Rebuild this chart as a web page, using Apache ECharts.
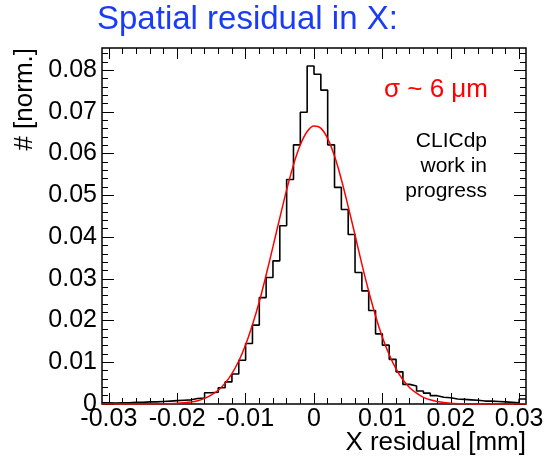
<!DOCTYPE html>
<html>
<head>
<meta charset="utf-8">
<script src="https://cdn.jsdelivr.net/npm/echarts@6/dist/echarts.min.js"></script>
<style>
html,body{margin:0;padding:0;background:#fff}
#container{width:547px;height:463px}
</style>
</head>
<body>
<div id="container"></div>
<script>
// histogram: 62 bins of 1 um from -0.031 to 0.031 mm
var xMin = -0.031, xMax = 0.031, binWidth = 0.001;
var histValues = [
    0.0003, 0.0002, 0.0003, 0.0003, 0.0004, 0.0004, 0.0005, 0.0005, 0.0006, 0.0007,
    0.0008, 0.0009, 0.0010, 0.0013, 0.0014, 0.0027, 0.0028, 0.0039, 0.0053, 0.0072,
    0.0105, 0.0145, 0.0189, 0.0255, 0.0303, 0.0343, 0.0427, 0.0538, 0.0621, 0.0699,
    0.0810, 0.0790, 0.0752, 0.0621, 0.0519, 0.0466, 0.0406, 0.0315, 0.0271, 0.0224,
    0.0168, 0.0141, 0.0107, 0.0077, 0.0047, 0.0043, 0.0031, 0.0026, 0.0020, 0.0016,
    0.0015, 0.0012, 0.0011, 0.0010, 0.0009, 0.0007, 0.0007, 0.0006, 0.0005, 0.0004,
    0.0003, 0.0012
];
// gauss fit curve
var fitX = [-0.031, -0.024, -0.022, -0.020, -0.018, -0.017, -0.016, -0.015, -0.014, -0.013,
    -0.012, -0.011, -0.010, -0.009, -0.008, -0.007, -0.006, -0.005, -0.004, -0.003,
    -0.002, -0.001, 0.000, 0.001, 0.002, 0.003, 0.004, 0.005, 0.006, 0.007,
    0.008, 0.009, 0.010, 0.011, 0.012, 0.013, 0.014, 0.015, 0.016, 0.017,
    0.018, 0.020, 0.022, 0.024, 0.031];
var fitY = [0, 0, 0.00003, 0.00016, 0.0005, 0.0008, 0.00135, 0.0022, 0.0033, 0.0050,
    0.0073, 0.0103, 0.0142, 0.0190, 0.0245, 0.0309, 0.0377, 0.0446, 0.0513, 0.0573,
    0.0621, 0.0653, 0.0666, 0.0661, 0.0636, 0.0594, 0.0538, 0.0473, 0.0405, 0.0335,
    0.0270, 0.0211, 0.0160, 0.0118, 0.0084, 0.0058, 0.0039, 0.0026, 0.0016, 0.0010,
    0.0006, 0.0002, 0.00004, 0, 0];
var xMajor = [-0.03, -0.02, -0.01, 0, 0.01, 0.02, 0.03];
var xMinor = [];
for (var i = -15; i <= 15; i++) { if (i % 5 != 0) xMinor.push(i * 0.002); }
var yMajor = [0, 0.01, 0.02, 0.03, 0.04, 0.05, 0.06, 0.07, 0.08];
var yMinor = [];
for (var j = 1; j <= 42; j++) { if (j % 5 != 0) yMinor.push(j * 0.002); }
var yMax = 0.0853;

var histData = [];
for (var k = 0; k < histValues.length; k++) {
    var lo = xMin + k * binWidth;
    histData.push([lo, histValues[k]]);
    histData.push([lo + binWidth, histValues[k]]);
}
var fitData = fitX.map(function (x, n) { return [x, fitY[n]]; });

function fmt(v) { return String(+(+v).toFixed(3)); }

function xAxisDef(pos, values, len, labels) {
    return {
        type: 'value', min: xMin, max: xMax, position: pos, offset: 0,
        axisLine: {show: false, onZero: false}, splitLine: {show: false},
        axisTick: {show: true, inside: true, length: len, customValues: values, lineStyle: {color: '#000', width: 1}},
        axisLabel: labels ? {show: true, customValues: values, formatter: fmt, fontSize: 25,
            fontFamily: 'Liberation Sans', color: '#000', margin: 3} : {show: false}
    };
}
function yAxisDef(pos, values, len, labels) {
    return {
        type: 'value', min: 0, max: yMax, position: pos, offset: 0,
        axisLine: {show: false, onZero: false}, splitLine: {show: false},
        axisTick: {show: true, inside: true, length: len, customValues: values, lineStyle: {color: '#000', width: 1}},
        axisLabel: labels ? {show: true, customValues: values, formatter: fmt, fontSize: 25,
            fontFamily: 'Liberation Sans', color: '#000', margin: 5} : {show: false}
    };
}

var myChart = echarts.init(document.getElementById('container'));
myChart.setOption({
    animation: false,
    backgroundColor: '#fff',
    grid: {left: 102, right: 21, top: 48, bottom: 59, show: true, borderColor: '#000', borderWidth: 1.5, backgroundColor: 'transparent'},
    xAxis: [
        xAxisDef('bottom', xMajor, 11, true),
        xAxisDef('bottom', xMinor, 6, false),
        xAxisDef('top', xMajor, 11, false),
        xAxisDef('top', xMinor, 6, false)
    ],
    yAxis: [
        yAxisDef('left', yMajor, 12, true),
        yAxisDef('left', yMinor, 6, false),
        yAxisDef('right', yMajor, 12, false),
        yAxisDef('right', yMinor, 6, false)
    ],
    series: [
        {type: 'line', data: histData, xAxisIndex: 0, yAxisIndex: 0, symbol: 'none',
            lineStyle: {color: '#000', width: 1.6}, z: 3},
        {type: 'line', data: fitData, xAxisIndex: 0, yAxisIndex: 0, symbol: 'none', smooth: 0.3,
            lineStyle: {color: '#ff0000', width: 1.5}, z: 4}
    ],
    graphic: [
        {type: 'text', left: 97, top: 3, style: {text: 'Spatial residual in X:', fill: '#1a3cf7',
            font: '33px "Liberation Sans"'}},
        {type: 'text', x: 12, y: 48, rotation: Math.PI / 2, style: {text: '# [norm.]', fill: '#000',
            font: '26px "Liberation Sans"', align: 'right', verticalAlign: 'top'}},
        {type: 'text', x: 526, y: 443, style: {text: 'X residual [mm]', fill: '#000',
            font: '26px "Liberation Sans"', align: 'right', verticalAlign: 'middle'}},
        {type: 'text', x: 488, y: 90, style: {text: 'σ ~ 6 μm', fill: '#ff0000',
            font: '26px "Liberation Sans"', align: 'right', verticalAlign: 'middle'}},
        {type: 'text', x: 487, y: 129, style: {text: 'CLICdp\nwork in\nprogress', fill: '#000',
            font: '21px "Liberation Sans"', align: 'right', verticalAlign: 'top', lineHeight: 25}}
    ]
});
</script>
</body>
</html>
